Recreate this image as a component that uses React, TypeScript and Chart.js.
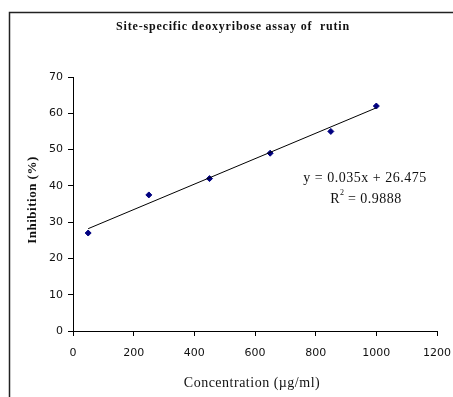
import React, { useEffect, useRef } from "react";
import { Chart, registerables } from "chart.js";

Chart.register(...registerables);

const concentrations = [50, 250, 450, 650, 850, 1000];
const inhibition = [27, 37.5, 42, 49, 55, 62];
const trendX = [50, 1000];
const trendY = [28.2, 61.5];
const chartTitle = "Site-specific deoxyribose assay of  rutin";
const yTitle = "Inhibition (%)";
const xTitle = "Concentration (µg/ml)";
const equationText = "y = 0.035x + 26.475";
const r2Label = "R";
const r2Value = " = 0.9888";

const textPlugin = {
  id: "textPlugin",
  beforeDraw(chart: any) {
    const ctx = chart.ctx;
    ctx.save();
    ctx.strokeStyle = "#222";
    ctx.lineWidth = 1.5;
    ctx.beginPath();
    ctx.moveTo(9.5, 397);
    ctx.lineTo(9.5, 12.5);
    ctx.lineTo(453, 12.5);
    ctx.stroke();
    ctx.restore();
  },
  afterDraw(chart: any) {
    const ctx = chart.ctx;
    ctx.save();
    ctx.fillStyle = "#111";
    ctx.textAlign = "center";
    ctx.textBaseline = "middle";
    ctx.letterSpacing = "0.8px";
    ctx.font = "bold 12px 'Liberation Serif'";
    ctx.fillText(chartTitle, 233, 27);

    ctx.letterSpacing = "0.5px";
    ctx.font = "14px 'Liberation Serif'";
    ctx.fillText(xTitle, 252, 383);

    ctx.save();
    ctx.translate(33, 200);
    ctx.rotate(-Math.PI / 2);
    ctx.font = "bold 13px 'Liberation Serif'";
    ctx.fillText(yTitle, 0, 0);
    ctx.restore();

    ctx.font = "14px 'Liberation Serif'";
    ctx.fillText(equationText, 365, 178);
    ctx.textAlign = "left";
    const rW = ctx.measureText(r2Label).width;
    const vW = ctx.measureText(r2Value).width;
    const startX = 366 - (rW + vW + 4) / 2;
    ctx.fillText(r2Label, startX, 199);
    ctx.font = "8px 'Liberation Serif'";
    ctx.fillText("2", startX + rW, 193);
    ctx.font = "14px 'Liberation Serif'";
    ctx.fillText(r2Value, startX + rW + 4, 199);
    ctx.restore();
  },
};

export default function App() {
  const ref = useRef<HTMLCanvasElement | null>(null);
  useEffect(() => {
    if (!ref.current) return;
    const chart = new Chart(ref.current, {
      type: "scatter",
      data: {
        datasets: [
          {
            type: "line",
            data: trendX.map((x, i) => ({ x, y: trendY[i] })),
            borderColor: "#000",
            borderWidth: 1,
            pointRadius: 0,
            fill: false,
          },
          {
            data: concentrations.map((x, i) => ({ x, y: inhibition[i] })),
            pointStyle: "rectRot",
            pointRadius: 3,
            backgroundColor: "#000080",
            borderColor: "#000080",
            borderWidth: 1,
          },
        ],
      },
      options: {
        responsive: false,
        animation: false,
        layout: { padding: { left: 0, right: 16, top: 77, bottom: 0 } },
        plugins: { legend: { display: false }, title: { display: false }, tooltip: { enabled: false } },
        scales: {
          x: {
            type: "linear",
            min: 0,
            max: 1200,
            ticks: {
              stepSize: 200,
              color: "#111",
              font: { family: "DejaVu Sans", size: 11 },
              padding: 11,
              maxRotation: 0,
              callback: (v: any) => String(v),
            },
            grid: { drawOnChartArea: false, tickLength: 5, tickColor: "#000" },
            border: { color: "#000", width: 1 },
            afterFit: (s: any) => { s.height = 66; s.paddingRight = 0; s.paddingLeft = 0; },
          },
          y: {
            min: 0,
            max: 70,
            ticks: { stepSize: 10, color: "#111", font: { family: "DejaVu Sans", size: 11 }, padding: 5 },
            grid: { drawOnChartArea: false, tickLength: 5, tickColor: "#000" },
            border: { color: "#000", width: 1 },
            afterFit: (s: any) => { s.width = 73; s.paddingTop = 0; s.paddingBottom = 0; },
          },
        },
      },
      plugins: [textPlugin],
    } as any);
    return () => chart.destroy();
  }, []);
  return (
    <div style={{ position: "fixed", left: 0, top: 0, width: 453, height: 397, background: "#fff" }}>
      <canvas ref={ref} width={453} height={397} />
    </div>
  );
}
